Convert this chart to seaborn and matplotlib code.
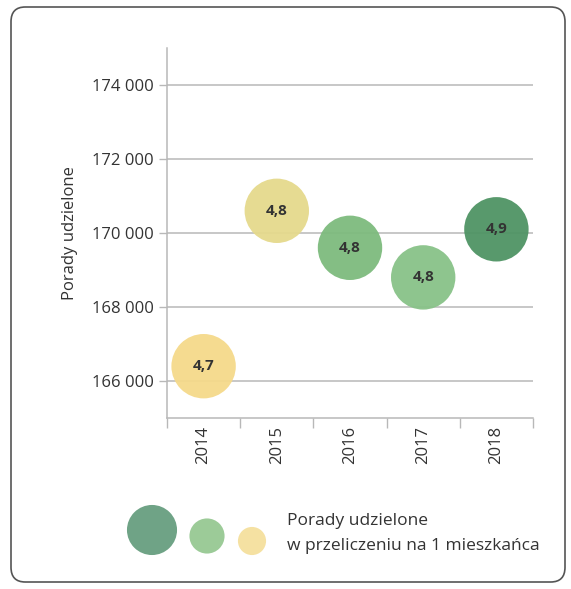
import seaborn as sns
import matplotlib.pyplot as plt
import pandas as pd
from matplotlib.patches import FancyBboxPatch
from matplotlib.ticker import FuncFormatter, FixedLocator

years = ["2014", "2015", "2016", "2017", "2018"]
porady = [166400, 170600, 169600, 168800, 170100]
na_mieszkanca = ["4,7", "4,8", "4,8", "4,8", "4,9"]
kolory = ["#F5D98A", "#E5D98C", "#7DBB7D", "#88C288", "#4F9464"]

legend_sizes = [1300, 640, 410]
legend_colors = ["#6FA386", "#9CCB98", "#F5E1A2"]

df = pd.DataFrame({"rok": years, "porady": porady, "label": na_mieszkanca})

sns.set_theme(style="white")
plt.rcParams['font.family'] = ['Open Sans', 'DejaVu Sans']

fig = plt.figure(figsize=(5.71, 5.89), dpi=100)
fig.patches.append(FancyBboxPatch((11 / 571, 7 / 589), 554 / 571, 575 / 589,
                                  boxstyle="round,pad=0,rounding_size=0.025",
                                  transform=fig.transFigure, facecolor="white",
                                  edgecolor="#555555", linewidth=1.2, zorder=-1))

ax = fig.add_axes([167 / 571, 171 / 589, 366 / 571, 370 / 589])
ax.set_facecolor("none")
sns.scatterplot(data=df, x="rok", y="porady", hue="rok", palette=kolory,
                s=2150, linewidth=0, alpha=0.95, legend=False, ax=ax, zorder=3)

for i, row in df.iterrows():
    ax.text(i, row["porady"], row["label"], ha="center", va="center",
            fontsize=11, fontweight="bold", color="#333333", zorder=4)

ax.set_xlim(-0.5, 4.5)
ax.set_ylim(165000, 175000)
ax.set_yticks([166000, 168000, 170000, 172000, 174000])
ax.yaxis.set_major_formatter(FuncFormatter(lambda v, p: f"{int(v):,}".replace(",", " ")))
ax.yaxis.grid(True, color="#B8B8B8", linewidth=1.1)
ax.set_axisbelow(True)

ax.xaxis.set_minor_locator(FixedLocator([-0.5, 0.5, 1.5, 2.5, 3.5, 4.5]))
ax.tick_params(axis="x", which="major", length=0, pad=6, labelsize=12, rotation=90, colors="#333333")
ax.tick_params(axis="x", which="minor", length=7, width=1, color="#B8B8B8", bottom=True)
ax.tick_params(axis="y", length=6, width=1, color="#B8B8B8", labelsize=12, labelcolor="#333333", left=True)

for s in ["top", "right"]:
    ax.spines[s].set_visible(False)
for s in ["left", "bottom"]:
    ax.spines[s].set_color("#B8B8B8")
    ax.spines[s].set_linewidth(1.1)
ax.spines["bottom"].set_bounds(-0.5, 4.5)

ax.set_xlabel("")
ax.set_ylabel("Porady udzielone", fontsize=12, color="#333333", labelpad=10)

# legenda
lax = fig.add_axes([120 / 571, 30 / 589, 160 / 571, 60 / 589])
lax.set_xlim(0, 160)
lax.set_ylim(0, 60)
lax.axis("off")
sns.scatterplot(x=[32, 87, 132], y=[29, 23, 18], s=legend_sizes, c=legend_colors,
                linewidth=0, legend=False, ax=lax)
fig.text(287 / 571, 1 - 521 / 589, "Porady udzielone", fontsize=12.5, color="#333333", va="center")
fig.text(287 / 571, 1 - 546 / 589, "w przeliczeniu na 1 mieszkańca", fontsize=12.5, color="#333333", va="center")

fig.savefig("out.png", dpi=100)
